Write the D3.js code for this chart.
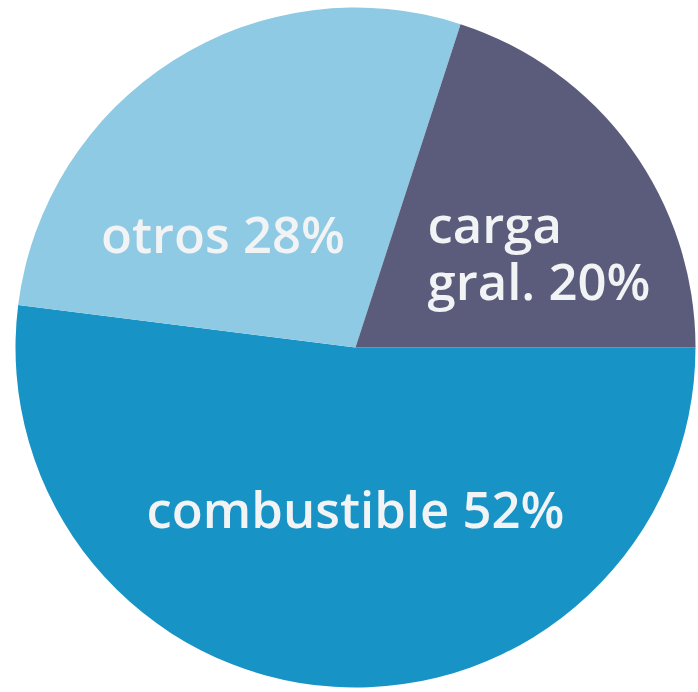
<!DOCTYPE html>
<html>
<head>
<meta charset="utf-8">
<script src="https://cdn.jsdelivr.net/npm/d3@7"></script>
<style>
  html, body { margin: 0; padding: 0; background: #fff; }
  svg { display: block; }
  .slice-label { font-family: 'Open Sans', 'DejaVu Sans', sans-serif; font-weight: 600; fill: #f2f3f5; }
</style>
</head>
<body>
<div id="chart"></div>
<script>
const categories = ['combustible', 'otros', 'carga gral.']
const shares = [52, 28, 20]
const sliceColors = ['#1793c6', '#8ecae4', '#5b5c7b']
// label lines per slice
const labelLines = [['combustible 52%'], ['otros 28%'], ['carga', 'gral. 20%']]

const width = 698
const height = 692
const cx = 355.5
const cy = 347.5
const radius = 340
const fontSize = 40
const lineHeight = 57

// label anchor offsets relative to pie centre (fraction of radius)
const labelLayout = [
  { x: 0, y: 0.53, anchor: 'middle' },
  { x: -0.39, y: -0.277, anchor: 'middle' },
  { x: 0.212, y: -0.307, anchor: 'start' },
]

const data = categories.map((c, i) => ({ category: c, value: shares[i], lines: labelLines[i] }))

const svg = d3
  .select('#chart')
  .append('svg')
  .attr('width', width)
  .attr('height', height)
  .attr('viewBox', `0 0 ${width} ${height}`)

const chartCore = svg.append('g').attr('transform', `translate(${cx}, ${cy})`)

const pie = d3
  .pie()
  .value(d => d.value)
  .sort(null)
  .startAngle(Math.PI / 2)
  .endAngle(Math.PI / 2 + 2 * Math.PI)

const arc = d3.arc().innerRadius(0).outerRadius(radius)

const color = d3.scaleOrdinal().domain(categories).range(sliceColors)

const arcs = pie(data)

chartCore
  .selectAll('path.slice')
  .data(arcs)
  .join('path')
  .attr('class', 'slice')
  .attr('d', arc)
  .attr('fill', d => color(d.data.category))

const labels = chartCore
  .selectAll('text.slice-label')
  .data(arcs)
  .join('text')
  .attr('class', 'slice-label')
  .attr('font-size', fontSize)
  .attr('text-anchor', (d, i) => labelLayout[i].anchor)
  .attr('x', (d, i) => labelLayout[i].x * radius)
  .attr('y', (d, i) => labelLayout[i].y * radius)

labels
  .selectAll('tspan')
  .data(d => d.data.lines)
  .join('tspan')
  .attr('x', function () {
    return this.parentNode.getAttribute('x')
  })
  .attr('dy', (d, i) => (i === 0 ? 0 : lineHeight))
  .text(d => d)

// fit to the width of the longest label in the reference
const target = 418
const measured = labels.filter((d, i) => i === 0).node().getComputedTextLength()
labels.attr('font-size', fontSize * target / measured)
</script>
</body>
</html>
